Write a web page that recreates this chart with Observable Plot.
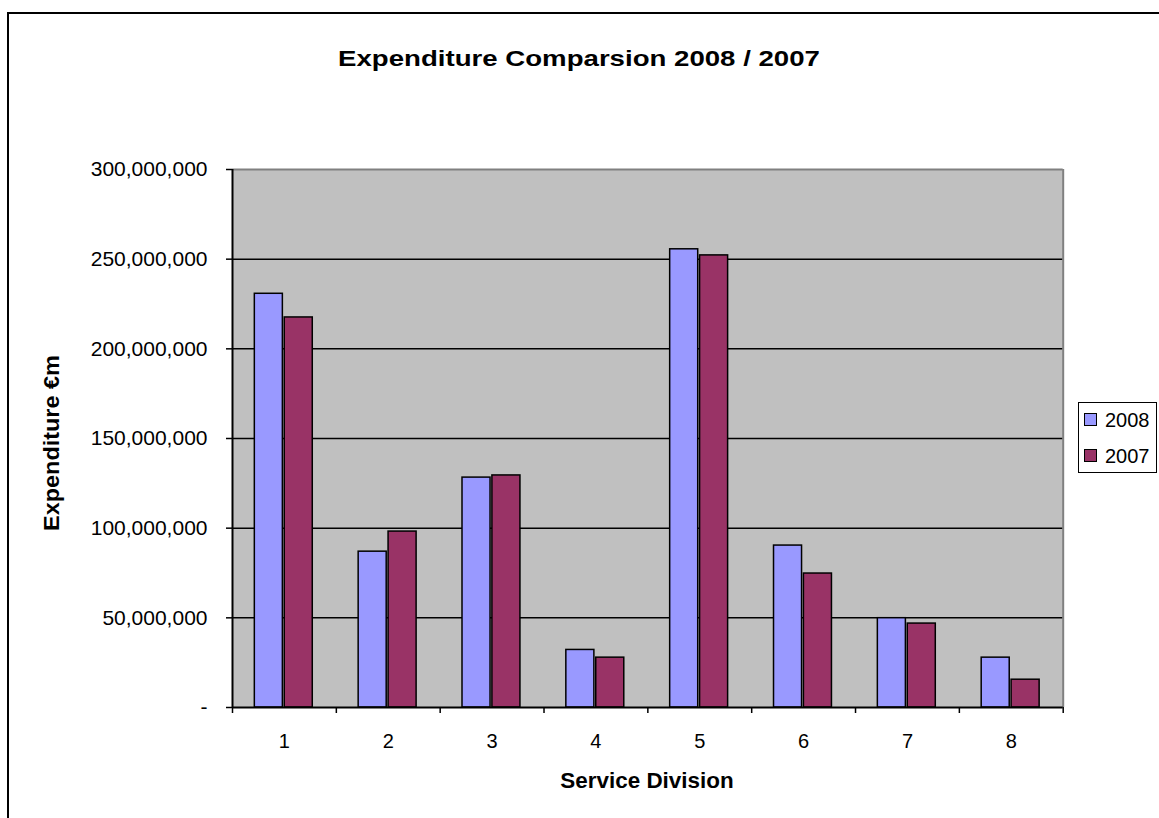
<!DOCTYPE html>
<html><head><meta charset="utf-8">
<script src="https://cdn.jsdelivr.net/npm/d3@7"></script>
<script src="https://cdn.jsdelivr.net/npm/@observablehq/plot@0.6"></script>
<style>
html,body{margin:0;padding:0;overflow:hidden;background:#fff;}
body{width:1159px;height:818px;position:relative;font-family:"Liberation Sans",Arial,sans-serif;color:#000;}
#frame{position:absolute;left:7px;top:12px;width:1250px;height:900px;border:2px solid #000;box-sizing:border-box;}
#chart{position:absolute;left:0;top:0;}
.t{position:absolute;line-height:1;white-space:nowrap;}
#title{left:579px;top:48px;font-weight:bold;font-size:22px;transform:translateX(-50%) scaleX(1.255);}
#xlabel{left:647px;top:770px;font-weight:bold;font-size:22px;transform:translateX(-50%) scaleX(1.02);}
#ylabel{left:52px;top:443px;font-weight:bold;font-size:22px;transform:translate(-50%,-50%) rotate(-90deg) scaleX(1.065);}
#legend{position:absolute;left:1078px;top:402px;width:79px;height:71px;border:1.5px solid #000;box-sizing:border-box;background:#fff;}
.sw{position:absolute;left:5px;width:13px;height:13px;border:1px solid #000;box-sizing:border-box;}
.lt{position:absolute;left:26px;font-size:20px;line-height:1;}
</style>
</head><body>
<div id="frame"></div>
<div id="chart"></div>
<div class="t" id="title">Expenditure Comparsion 2008 / 2007</div>
<div class="t" id="xlabel">Service Division</div>
<div class="t" id="ylabel">Expenditure €m</div>
<div id="legend"></div>
<script>
const divisions = [1, 2, 3, 4, 5, 6, 7, 8];
const years = ["2008", "2007"];
const exp2008 = [230.7e6, 86.9e6, 128.2e6, 32.1e6, 255.5e6, 90.3e6, 49.8e6, 27.8e6];
const exp2007 = [217.5e6, 98.1e6, 129.4e6, 27.8e6, 252.1e6, 74.7e6, 46.8e6, 15.5e6];
const yTicks = [0, 50e6, 100e6, 150e6, 200e6, 250e6, 300e6];
const colors = ["#9999FF", "#993366"];

const rows = divisions.flatMap((d, i) => [
  {division: d, year: "2008", value: exp2008[i]},
  {division: d, year: "2007", value: exp2007[i]}
]);
// bar placement within each category band (fraction of the band)
const slot = {"2008": [0.215, 0.485], "2007": [0.503, 0.773]};
const boundaries = divisions.map(d => d - 0.5).concat([divisions[divisions.length - 1] + 0.5]);

const plot = Plot.plot({
  width: 1159,
  height: 818,
  marginLeft: 232,
  marginRight: 96.3,
  marginTop: 169,
  marginBottom: 111,
  style: {fontFamily: "Liberation Sans, Arial, sans-serif", fontSize: "21px", color: "#000", background: "transparent", overflow: "visible"},
  x: {type: "linear", domain: [0.5, 8.5]},
  y: {domain: [0, 300e6]},
  color: {domain: years, range: colors},
  marks: [
    Plot.frame({fill: "#C0C0C0", stroke: null}),
    Plot.ruleY([50e6, 100e6, 150e6, 200e6, 250e6], {stroke: "#000", strokeWidth: 1.5}),
    Plot.ruleY([300e6], {stroke: "#808080", strokeWidth: 2}),
    Plot.ruleX([8.5], {stroke: "#808080", strokeWidth: 2}),
    Plot.rectY(rows, {
      x1: d => d.division - 0.5 + slot[d.year][0],
      x2: d => d.division - 0.5 + slot[d.year][1],
      y1: 0, y2: "value",
      fill: "year", stroke: "#000", strokeWidth: 1.5
    }),
    Plot.ruleX([0.5], {stroke: "#000", strokeWidth: 2}),
    Plot.ruleY([0], {stroke: "#000", strokeWidth: 2}),
    Plot.axisY({ticks: yTicks, tickSize: 6, tickPadding: 19, strokeWidth: 1.5, fontSize: 21,
      tickFormat: d => d === 0 ? "-" : d3.format(",")(d), label: null}),
    Plot.axisX({ticks: boundaries, tickSize: 6, strokeWidth: 1.5, tickFormat: () => "", label: null}),
    Plot.axisX({ticks: divisions, tickSize: 0, tickPadding: 26, fontSize: 20, tickFormat: d => String(d), label: null})
  ]
});
document.getElementById("chart").appendChild(plot);

const legend = document.getElementById("legend");
years.forEach((y, i) => {
  const sw = document.createElement("div");
  sw.className = "sw";
  sw.style.top = (10 + i * 36) + "px";
  sw.style.background = colors[i];
  legend.appendChild(sw);
  const t = document.createElement("div");
  t.className = "lt";
  t.style.top = (7 + i * 36) + "px";
  t.textContent = y;
  legend.appendChild(t);
});
</script>
</body></html>
